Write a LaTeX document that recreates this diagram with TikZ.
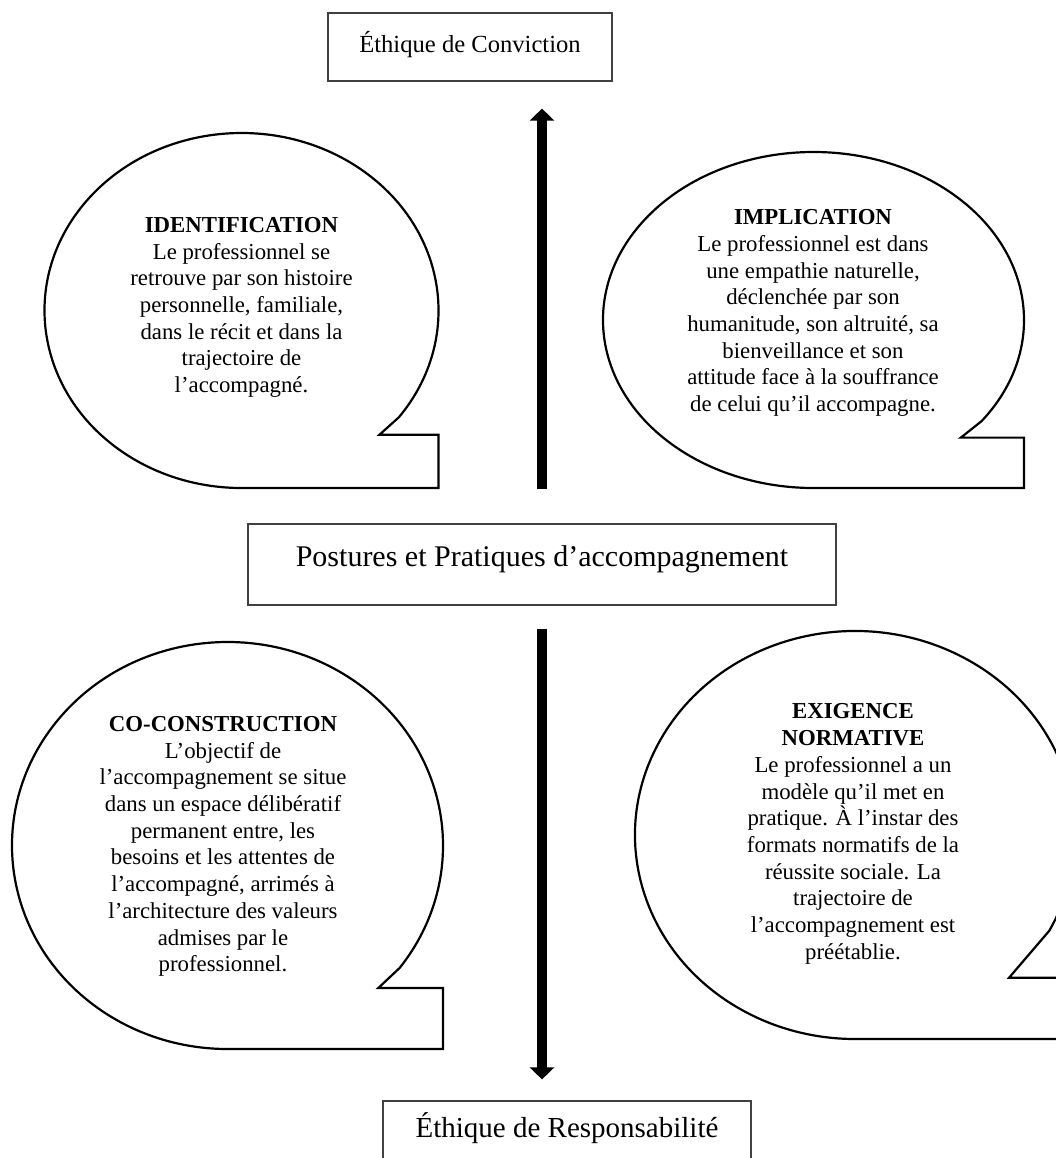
\documentclass[tikz,border=0pt]{standalone}
\usepackage{fontspec}
\setmainfont{Liberation Serif}
\usetikzlibrary{arrows.meta}

\tikzset{
  cadre/.style={draw=black!75, line width=0.6pt, inner sep=0pt},
  bulle/.style={draw, line width=1.1pt, line join=miter, fill=white},
  texte/.style={align=center, font=\fontsize{11.4}{13.35}\selectfont},
  fleche/.style={line width=5pt, -{Triangle[length=6pt,width=12pt]}}
}

% bulle : centre x, centre y, rayon x, rayon y, angle de la pointe
\newcommand{\bulle}[5]{%
  \draw[bulle] ({#1+#3*cos(#5)},{#2+#4*sin(#5)})
    arc[start angle=#5, end angle=-270, x radius=#3, y radius=#4]
    -- ({#1+#3},{#2+#4}) -- ({#1+#3},{#2+0.7*#4})
    -- ({#1+0.7*#3},{#2+0.7*#4}) -- cycle;}

\begin{document}
\begin{tikzpicture}[x=0.5pt,y=-0.5pt]
    \useasboundingbox (0,0) rectangle (1056,1158);
    \clip (0,0) rectangle (1056,1158);

    % Cadres
    \node[cadre, minimum width=142pt, text height=19.5pt, text depth=14.5pt,
      font=\fontsize{12.3}{14}\selectfont] (conviction) at (470,47) {Éthique de Conviction};
    \node[cadre, minimum width=294pt, text height=21pt, text depth=19.5pt,
      font=\fontsize{15}{17}\selectfont] (postures) at (542,564.5) {Postures et Pratiques d’accompagnement};
    \node[cadre, minimum width=184pt, text height=18pt, text depth=16pt,
      font=\fontsize{14.5}{17}\selectfont] (responsabilite) at (567,1135) {Éthique de Responsabilité};

    % Flèches
    \draw[fleche, shorten <=17pt, shorten >=13.5pt] (postures.north) -- (postures.north |- conviction.south);
    \draw[fleche, shorten <=11.5pt, shorten >=10.5pt] (postures.south) -- (postures.south |- responsabilite.north);

    % Bulles
    \bulle{241.5}{310.5}{197}{177.5}{37}
    \bulle{813.5}{320}{210.5}{168}{37}
    \bulle{227.5}{845.5}{215.5}{203.5}{37}
    \bulle{855}{835}{220}{204}{28}

    % Textes des bulles
    \node[texte] (identification) at (241.5,307.5) {\textbf{IDENTIFICATION}\\
      Le professionnel se\\ retrouve par son histoire\\ personnelle, familiale,\\
      dans le récit et dans la\\ trajectoire de\\ l’accompagné.};
    \node[texte] (implication) at (813,313) {\textbf{IMPLICATION}\\
      Le professionnel est dans\\ une empathie naturelle,\\ déclenchée par son\\
      humanitude, son altruité, sa\\ bienveillance et son\\
      attitude face à la souffrance\\ de celui qu’il accompagne.};
    \node[texte] (coconstruction) at (223,846.5) {\textbf{CO-CONSTRUCTION}\\
      L’objectif de\\ l’accompagnement se situe\\ dans un espace délibératif\\
      permanent entre, les\\ besoins et les attentes de\\ l’accompagné, arrimés à\\
      l’architecture des valeurs\\ admises par le\\ professionnel.};
    \node[texte] (exigence) at (853,834) {\textbf{EXIGENCE}\\ \textbf{NORMATIVE}\\
      Le professionnel a un\\ modèle qu’il met en\\ pratique. À l’instar des\\
      formats normatifs de la\\ réussite sociale. La\\ trajectoire de\\
      l’accompagnement est\\ préétablie.};
\end{tikzpicture}
\end{document}
